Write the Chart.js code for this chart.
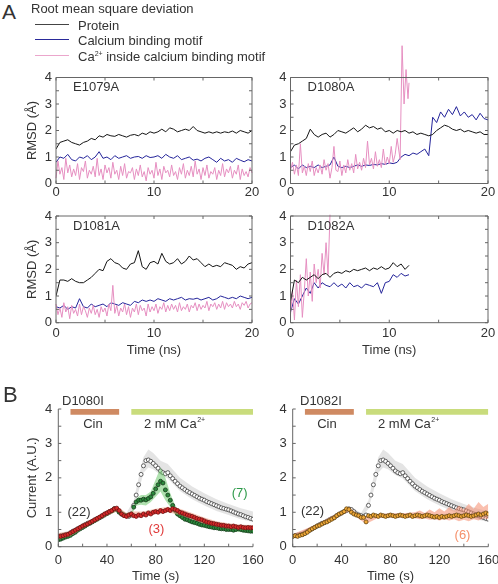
<!DOCTYPE html>
<html>
<head>
<meta charset="utf-8">
<script src="https://cdn.jsdelivr.net/npm/chart.js"></script>
<style>
body { margin: 0; background: #fff; }
#wrap { position: relative; width: 498px; height: 584px; overflow: hidden; font-family: 'Liberation Sans', Arial, sans-serif; color: #333; }
canvas { position: absolute; }
.t { position: absolute; line-height: 1; white-space: nowrap; font-size: 13px; z-index: 5; }
.ln { position: absolute; left: 35px; width: 34px; height: 0; border-top: 1.5px solid; z-index: 5; }
sup { font-size: 7px; vertical-align: 5px; line-height: 0; }
</style>
</head>
<body>
<div id="wrap">
  <canvas id="cE" width="270" height="160" style="left:0;top:40px"></canvas>
  <canvas id="cD80" width="260" height="160" style="left:250px;top:40px"></canvas>
  <canvas id="cD81" width="270" height="158" style="left:0;top:200px"></canvas>
  <canvas id="cD82" width="260" height="158" style="left:250px;top:200px"></canvas>
  <canvas id="cB1" width="270" height="204" style="left:0;top:380px"></canvas>
  <canvas id="cB2" width="260" height="204" style="left:250px;top:380px"></canvas>

  <div class="t" style="left:2px;top:0.5px;font-size:21px">A</div>
  <div class="t" style="left:31px;top:1.6px">Root mean square deviation</div>
  <div class="ln" style="top:24.3px;border-color:#444"></div>
  <div class="t" style="left:78px;top:19px">Protein</div>
  <div class="ln" style="top:39.3px;border-color:#2a2a9a"></div>
  <div class="t" style="left:78px;top:34.3px">Calcium binding motif</div>
  <div class="ln" style="top:55.3px;border-color:#eba6cc"></div>
  <div class="t" style="left:78px;top:50px">Ca<sup>2+</sup> inside calcium binding motif</div>

  <div class="t" style="left:3px;top:384px;font-size:22px">B</div>
  <div class="t" style="left:62px;top:393.8px">D1080I</div>
  <div class="t" style="left:300px;top:393.8px">D1082I</div>
</div>

<script>
// ---- time axes (frames every 0.4 ns / 0.2 ns for the ion, recording every 2 s)
const tNs = [];
for (let i = 0; i <= 50; i++) tNs.push(+(i * 0.4).toFixed(1));
const tFine = [];
for (let i = 0; i <= 100; i++) tFine.push(+(i * 0.2).toFixed(1));
const tSec = [];
for (let i = 0; i <= 80; i++) tSec.push(i * 2);

// ---- E1079A
const e79Protein = [1.30,1.55,1.60,1.65,1.55,1.50,1.45,1.55,1.60,1.70,
  1.65,1.80,1.75,1.85,1.80,1.78,1.85,1.80,1.75,1.82,
  1.85,1.80,1.90,1.85,1.95,1.90,1.95,2.05,1.95,2.10,
  2.05,1.95,2.00,2.05,2.00,2.15,2.00,1.95,1.90,1.95,
  1.90,1.95,1.90,1.95,1.92,1.98,1.90,2.00,1.95,1.90,
  2.00];
const e79Motif = [0.80,1.00,0.95,1.10,0.90,0.85,1.00,0.95,1.05,0.90,
  1.00,1.20,0.95,1.00,0.90,1.05,0.95,1.00,1.05,0.95,
  1.00,1.02,0.95,1.05,0.98,1.00,1.05,0.95,1.10,1.00,
  0.95,1.05,0.90,0.95,1.00,0.88,0.92,0.85,0.95,1.00,
  0.90,0.80,0.95,0.85,0.90,0.80,0.95,0.88,0.82,0.90,
  0.85];
const e79Ion = [0.20,0.85,0.35,0.60,0.15,0.95,0.40,0.70,0.25,0.55,
  0.30,0.75,0.15,0.60,0.45,0.85,0.20,0.50,0.35,0.65,
  0.25,0.95,0.30,0.55,0.15,0.70,0.40,0.60,0.20,0.80,
  0.35,0.50,0.15,0.65,0.30,0.75,0.20,0.45,0.40,0.60,
  0.15,0.55,0.30,0.70,0.25,0.45,0.10,0.60,0.35,0.50,
  0.20,0.80,0.30,0.55,0.15,0.65,0.40,0.50,0.25,0.70,
  0.30,0.45,0.15,0.60,0.35,0.75,0.20,0.50,0.30,0.65,
  0.25,0.85,0.35,0.55,0.15,0.60,0.30,0.70,0.20,0.45,
  0.35,0.60,0.15,0.50,0.30,0.75,0.25,0.55,0.40,0.65,
  0.20,0.50,0.35,0.70,0.15,0.55,0.30,0.45,0.25,0.60,
  0.40];

// ---- D1080A
const d80Protein = [1.20,1.45,1.50,1.60,1.70,2.05,1.85,1.75,1.85,1.90,
  1.75,1.85,2.00,1.95,1.90,2.00,2.10,1.95,2.05,2.20,
  2.10,2.15,2.05,2.10,1.95,2.00,1.90,2.00,1.95,2.00,
  1.90,1.95,1.85,1.90,1.85,1.80,1.85,2.00,2.10,2.20,
  2.15,2.05,2.00,2.05,1.95,2.00,1.95,1.90,1.95,1.85,
  1.85];
const d80Motif = [0.60,0.70,0.55,0.70,0.60,0.65,0.60,0.70,0.60,0.65,
  0.70,1.00,0.65,0.60,0.65,0.60,0.65,0.70,0.65,0.70,
  0.68,0.72,0.70,0.75,0.72,0.78,0.75,0.80,1.00,1.10,
  1.05,1.15,1.10,1.20,1.30,1.05,2.50,2.30,2.70,2.50,
  2.80,2.60,2.90,2.55,2.70,2.50,2.60,2.40,2.65,2.45,
  2.40];
const d80IonT = tFine.slice(0, 55).concat([11.1, 11.3, 11.5, 11.7, 11.9, 12.0]);
const d80Ion = [0.50,0.80,0.35,0.70,0.30,1.50,0.40,0.65,0.30,0.75,
  0.45,0.85,0.30,0.60,0.40,0.70,0.35,0.90,0.50,0.75,
  0.20,0.60,1.40,0.50,0.45,0.85,0.30,0.70,0.40,0.90,
  0.50,0.75,0.40,1.10,0.55,0.80,0.50,0.95,0.60,1.60,
  0.70,0.95,0.55,1.20,0.65,0.90,0.60,1.30,0.70,1.00,
  0.75,1.40,0.80,1.10,1.70,
  0.90,5.20,3.00,4.30,3.20,3.80];

// ---- D1081A
const d81Protein = [1.00,1.60,1.60,1.55,1.65,1.55,1.50,1.50,1.60,1.70,
  1.85,2.00,1.95,2.30,2.40,2.25,2.20,2.05,2.00,2.20,
  2.25,2.70,2.10,2.00,2.25,2.30,2.20,2.60,2.30,2.20,
  2.25,2.40,2.20,2.30,2.50,2.35,2.40,2.25,2.10,2.20,
  2.10,2.15,2.10,2.25,2.20,2.15,2.00,2.10,2.05,2.20,
  2.25];
const d81Motif = [0.60,0.55,0.65,0.50,0.60,0.55,0.90,0.60,0.55,0.70,
  0.60,0.65,0.70,0.60,0.75,0.70,0.65,0.75,0.70,0.65,
  0.80,0.75,0.85,0.80,0.85,0.80,0.90,0.85,0.80,0.90,
  0.85,0.90,0.95,0.85,0.90,0.88,0.92,0.85,0.90,0.95,
  0.85,0.90,1.00,0.95,0.90,0.95,0.90,1.00,0.95,0.90,
  0.95];
const d81Ion = [0.70,0.30,0.55,0.20,0.75,0.40,0.60,0.15,0.65,0.35,
  0.50,0.25,0.70,0.30,0.60,0.45,0.20,0.55,0.35,0.65,
  0.30,0.50,0.20,0.60,0.40,0.55,0.25,0.70,0.45,1.40,
  0.35,0.65,0.25,0.55,0.40,0.70,0.30,0.60,0.20,0.55,
  0.40,0.70,0.30,0.65,0.45,0.55,0.25,0.70,0.40,0.60,
  0.45,0.70,0.35,0.60,0.50,0.75,0.40,0.65,0.45,0.70,
  0.50,0.65,0.40,0.75,0.45,0.60,0.50,0.70,0.40,0.65,
  0.55,0.75,0.45,0.70,0.50,0.65,0.55,0.80,0.45,0.70,
  0.60,0.75,0.50,0.70,0.55,0.80,0.50,0.75,0.60,0.70,
  0.55,0.80,0.60,0.70,0.50,0.75,0.65,0.80,0.55,0.70,
  0.75];

// ---- D1082A (run stops at 12 ns, ion leaves at 4 ns)
const d82Protein = [0.80,1.60,1.50,1.70,1.60,1.70,1.80,1.65,1.80,1.85,
  1.70,1.85,1.90,1.85,1.95,1.90,2.00,1.95,2.00,2.05,
  1.95,2.05,2.00,2.10,2.00,2.05,2.25,2.10,2.20,2.00,
  2.15];
const d82Motif = [0.40,0.90,0.70,1.00,1.30,1.10,1.50,1.30,1.50,1.40,
  1.35,1.50,1.35,1.45,1.30,1.50,1.35,1.40,1.30,1.45,
  1.40,1.35,1.50,1.10,1.50,1.55,1.80,1.70,1.85,1.75,
  1.80];
const d82IonT = tFine.slice(0, 21);
const d82Ion = [0.30,1.20,0.10,1.60,0.60,1.80,0.20,1.20,2.40,1.00,
  1.90,0.80,2.20,1.50,2.00,1.30,2.60,1.80,3.00,1.80,
  4.05];

// ---- B: currents (A.U.)
const wt22 = [0.30,0.32,0.33,0.35,0.36,0.40,0.45,0.48,0.52,0.56,
  0.60,0.64,0.68,0.70,0.74,0.78,0.82,0.85,0.90,0.94,
  0.98,1.02,1.05,1.10,1.08,1.02,0.95,0.92,0.90,0.88,
  0.92,1.20,1.50,1.80,2.10,2.35,2.50,2.52,2.48,2.42,
  2.35,2.28,2.20,2.15,2.12,2.15,2.06,1.98,1.90,1.83,
  1.76,1.71,1.66,1.61,1.57,1.53,1.49,1.45,1.41,1.38,
  1.35,1.31,1.28,1.25,1.22,1.19,1.16,1.13,1.11,1.09,
  1.07,1.04,1.01,0.98,0.95,0.93,0.90,0.87,0.85,0.82,
  0.80];
const wtBandT = [0,10,20,30,40,48,56,62,66,70,74,78,84,90,100,110,120,130,140,150,160];
const wtBandHi = [0.38,0.48,0.68,0.86,1.05,1.15,0.98,1.35,2.00,2.60,2.82,2.72,2.50,2.40,2.00,1.75,1.55,1.38,1.24,1.12,1.02];
const wtBandLo = [0.25,0.36,0.55,0.72,0.92,1.02,0.85,1.10,1.60,2.15,2.30,2.25,2.08,1.98,1.62,1.38,1.20,1.04,0.92,0.80,0.72];

const d80i7 = [0.20,0.22,0.25,0.28,0.30,0.33,0.38,0.42,0.48,0.52,
  0.56,0.60,0.65,0.68,0.72,0.76,0.80,0.84,0.88,0.92,
  0.96,1.00,1.04,1.10,1.08,1.00,0.95,0.92,0.90,0.92,
  0.95,1.15,1.30,1.35,1.35,1.38,1.36,1.40,1.45,1.55,
  1.68,1.80,1.90,1.85,1.65,1.50,1.35,1.20,1.05,0.95,
  0.90,0.85,0.80,0.78,0.75,0.72,0.70,0.68,0.65,0.63,
  0.62,0.60,0.58,0.57,0.55,0.55,0.53,0.52,0.52,0.50,
  0.50,0.50,0.48,0.50,0.52,0.50,0.48,0.47,0.46,0.45,
  0.45];
const d80i7BandT = [0,20,40,48,56,60,64,68,72,76,80,84,88,92,96,100,110,120,140,160];
const d80i7BandHi = [0.27,0.62,1.02,1.15,0.96,1.00,1.40,1.50,1.50,1.60,1.95,2.30,2.00,1.55,1.20,1.02,0.80,0.70,0.56,0.52];
const d80i7BandLo = [0.15,0.50,0.90,1.02,0.85,0.90,1.20,1.22,1.20,1.30,1.45,1.60,1.35,1.15,0.92,0.82,0.66,0.56,0.45,0.40];

const d80i3 = [0.30,0.30,0.32,0.34,0.36,0.40,0.44,0.48,0.52,0.56,
  0.60,0.63,0.66,0.70,0.74,0.78,0.82,0.86,0.90,0.95,
  0.98,1.02,1.05,1.10,1.12,1.05,0.95,0.90,0.88,0.92,
  0.95,0.90,0.88,0.92,0.90,0.95,0.92,0.98,0.95,1.00,
  1.02,1.00,1.05,1.02,1.05,1.08,1.05,1.10,1.08,1.05,
  1.00,0.98,0.95,0.92,0.90,0.88,0.85,0.82,0.80,0.78,
  0.75,0.72,0.70,0.68,0.67,0.65,0.64,0.62,0.62,0.60,
  0.60,0.58,0.60,0.58,0.56,0.58,0.56,0.55,0.56,0.55,
  0.55];
const d80i3BandT = [0,10,20,30,40,48,56,60,70,80,90,100,110,120,130,140,150,160];
const d80i3BandHi = [0.40,0.45,0.67,0.85,1.05,1.18,0.98,1.02,1.02,1.10,1.16,1.10,0.98,0.85,0.74,0.68,0.64,0.63];
const d80i3BandLo = [0.22,0.30,0.52,0.70,0.90,1.02,0.82,0.86,0.86,0.94,1.00,0.92,0.80,0.67,0.58,0.52,0.50,0.48];

const d82i6 = [0.30,0.32,0.30,0.33,0.35,0.38,0.42,0.48,0.52,0.56,
  0.60,0.62,0.66,0.70,0.72,0.76,0.80,0.84,0.90,0.95,
  0.98,1.02,1.10,1.08,1.00,0.95,0.92,0.90,0.85,0.85,
  0.72,0.90,0.88,0.92,0.90,0.88,0.92,0.90,0.88,0.90,
  0.92,0.90,0.88,0.90,0.92,0.90,0.88,0.90,0.92,0.88,
  0.90,0.92,0.90,0.88,0.90,0.92,0.90,0.88,0.86,0.88,
  0.85,0.88,0.86,0.88,0.90,0.88,0.90,0.92,0.90,0.88,
  0.90,0.92,0.90,0.88,0.90,0.92,0.95,0.92,0.95,0.98,
  0.95];
const d82i6BandT = [0,20,40,46,52,60,70,80,90,100,104,108,112,116,120,124,128,132,136,140,144,148,152,156,160];
const d82i6BandHi = [0.36,0.66,1.04,1.16,0.98,0.86,0.95,0.97,0.97,1.00,1.05,0.98,1.08,1.00,1.12,1.02,1.15,1.05,1.20,1.08,1.25,1.10,1.30,1.15,1.25];
const d82i6BandLo = [0.24,0.56,0.92,1.02,0.86,0.66,0.84,0.85,0.84,0.83,0.80,0.82,0.78,0.80,0.76,0.80,0.76,0.80,0.74,0.78,0.74,0.80,0.76,0.82,0.80];

// application periods (s)
const cinPeriod = [10, 50];
const caPeriod = [60, 160];

// ---------------------------------------------------------------
Chart.defaults.font.family = "'Liberation Sans', Arial, sans-serif";
Chart.defaults.font.size = 13;
Chart.defaults.font.weight = 'normal';
Chart.defaults.color = '#333';
Chart.defaults.animation = false;
Chart.defaults.plugins.legend.display = false;
Chart.defaults.plugins.tooltip.enabled = false;
Chart.defaults.elements.line.borderWidth = 1;
Chart.defaults.elements.line.tension = 0;
Chart.defaults.elements.point.radius = 0;

function pts(xs, ys) {
    return ys.map((v, i) => ({x: xs[i], y: v}));
}

// frame + inward ticks + panel name
const framePlugin = {
    id: 'frame',
    afterDatasetsDraw(chart, args, o) {
        const {ctx, chartArea: a, scales: {x, y}} = chart;
        ctx.save();
        ctx.strokeStyle = '#666';
        ctx.lineWidth = 1;
        ctx.beginPath();
        if (o.full) {
            ctx.rect(a.left, a.top, a.width, a.height);
        } else {
            ctx.moveTo(a.left, a.top);
            ctx.lineTo(a.left, a.bottom);
            ctx.lineTo(a.right, a.bottom);
        }
        for (let v = x.min; v <= x.max + 1e-9; v += o.xStep) {
            const px = x.getPixelForValue(v);
            ctx.moveTo(px, a.bottom); ctx.lineTo(px, a.bottom - 3);
            if (o.full) { ctx.moveTo(px, a.top); ctx.lineTo(px, a.top + 3); }
        }
        for (let v = y.min; v <= y.max + 1e-9; v += o.yStep) {
            const py = y.getPixelForValue(v);
            ctx.moveTo(a.left, py); ctx.lineTo(a.left + 3, py);
            if (o.full) { ctx.moveTo(a.right, py); ctx.lineTo(a.right - 3, py); }
        }
        ctx.stroke();
        if (o.name) {
            ctx.fillStyle = '#333';
            ctx.font = "13px 'Liberation Sans', Arial, sans-serif";
            ctx.textBaseline = 'middle';
            ctx.fillText(o.name, a.left + 17, a.top + 10);
        }
        ctx.restore();
    }
};

// text notes placed in data coordinates
const notesPlugin = {
    id: 'notes',
    afterDatasetsDraw(chart, args, o) {
        const {ctx, scales: {x, y}} = chart;
        (o.items || []).forEach(n => {
            const main = "13px 'Liberation Sans', Arial, sans-serif";
            const small = "7px 'Liberation Sans', Arial, sans-serif";
            ctx.save();
            ctx.fillStyle = n.color || '#333';
            ctx.textBaseline = 'middle';
            ctx.font = main;
            let w = ctx.measureText(n.text).width;
            if (n.sup) { ctx.font = small; w += ctx.measureText(n.sup).width; }
            let px = x.getPixelForValue(n.x);
            const py = y.getPixelForValue(n.y);
            if (n.align === 'center') px -= w / 2;
            ctx.font = main;
            ctx.fillText(n.text, px, py);
            if (n.sup) {
                const tw = ctx.measureText(n.text).width;
                ctx.font = small;
                ctx.fillText(n.sup, px + tw + 0.5, py - 5);
            }
            ctx.restore();
        });
    }
};

function scales(xmax, xstep, yW, xH, xTitle, yTitle, padX, padY) {
    return {
        x: {
            type: 'linear', min: 0, max: xmax,
            ticks: {stepSize: xstep, padding: padX, maxRotation: 0, autoSkip: false},
            grid: {display: false, drawTicks: false},
            border: {display: false},
            title: {display: !!xTitle, text: xTitle || '', padding: 0, font: {weight: 'normal'}},
            afterFit(s) { s.height = xH; }
        },
        y: {
            min: 0, max: 4,
            ticks: {stepSize: 1, padding: padY},
            grid: {display: false, drawTicks: false},
            border: {display: false},
            title: {display: !!yTitle, text: yTitle || '', padding: 0, font: {weight: 'normal'}},
            afterFit(s) { s.width = yW; }
        }
    };
}

function rmsdChart(id, name, prot, motif, ionT, ion, pad, yW, xH, xTitle, yTitle, padX) {
    new Chart(document.getElementById(id), {
        type: 'line',
        data: {
            datasets: [
                {data: pts(tNs, prot), borderColor: '#141414'},
                {data: pts(ionT, ion), borderColor: '#e68fc1', clip: false},
                {data: pts(tNs, motif), borderColor: '#24249a'}
            ]
        },
        options: {
            responsive: false,
            devicePixelRatio: 1,
            layout: {padding: pad},
            scales: scales(20, 10, yW, xH, xTitle, yTitle, padX, 4),
            plugins: {frame: {full: true, xStep: 5, yStep: 0.5, name: name}}
        },
        plugins: [framePlugin]
    });
}

rmsdChart('cE', 'E1079A', e79Protein, e79Motif, tFine, e79Ion,
    {left: 24.2, right: 18, top: 37.5, bottom: 0}, 31.8, 16.5, '', 'RMSD (Å)', 1);
rmsdChart('cD80', 'D1080A', d80Protein, d80Motif, d80IonT, d80Ion,
    {left: 0, right: 22, top: 37.5, bottom: 0}, 40.5, 16.5, '', '', 1);
rmsdChart('cD81', 'D1081A', d81Protein, d81Motif, tFine, d81Ion,
    {left: 24.2, right: 18, top: 16, bottom: 0}, 31.8, 35.3, 'Time (ns)', 'RMSD (Å)', 2.5);
rmsdChart('cD82', 'D1082A', d82Protein, d82Motif, d82IonT, d82Ion,
    {left: 0, right: 22, top: 16, bottom: 0}, 40.5, 35.3, 'Time (ns)', '', 2.5);

// ---- panel B
const barY = 3.92;
function bar(span, color) {
    return {data: [{x: span[0], y: barY}, {x: span[1], y: barY}], borderColor: color,
        borderWidth: 6, borderCapStyle: 'butt', pointRadius: 0};
}
function markers(ys, fill, edge) {
    return {data: pts(tSec, ys), showLine: false, pointRadius: 2,
        pointBackgroundColor: fill, pointBorderColor: edge, pointBorderWidth: 0.8};
}
function band(xs, hi, lo, color) {
    return [
        {data: pts(xs, hi), borderColor: 'rgba(0,0,0,0)', pointRadius: 0, fill: '+1', backgroundColor: color},
        {data: pts(xs, lo), borderColor: 'rgba(0,0,0,0)', pointRadius: 0, fill: false}
    ];
}

function currentChart(id, sets, pad, yW, yTitle, notes) {
    new Chart(document.getElementById(id), {
        type: 'line',
        data: {datasets: sets},
        options: {
            responsive: false,
            devicePixelRatio: 1,
            layout: {padding: pad},
            scales: scales(160, 40, yW, 37.3, 'Time (s)', yTitle, 6, 6),
            plugins: {
                frame: {full: false, xStep: 20, yStep: 0.5},
                notes: {items: notes}
            }
        },
        plugins: [framePlugin, notesPlugin]
    });
}

currentChart('cB1', [
    bar(cinPeriod, '#cf8a62'),
    bar(caPeriod, '#c9dc7c'),
    markers(d80i3, '#d62a2a', '#6e1212'),
    ...band(d80i3BandT, d80i3BandHi, d80i3BandLo, 'rgba(240,150,120,0.5)'),
    markers(d80i7, '#2b8a3c', '#15391a'),
    ...band(d80i7BandT, d80i7BandHi, d80i7BandLo, 'rgba(110,200,110,0.55)'),
    markers(wt22, '#ffffff', '#3c3c3c'),
    ...band(wtBandT, wtBandHi, wtBandLo, 'rgba(205,205,205,0.55)')
], {left: 24.2, right: 17, top: 29, bottom: 0}, 34.1, 'Current (A.U.)', [
    {x: 28.5, y: 3.54, text: 'Cin', align: 'center'},
    {x: 70.4, y: 3.54, text: '2 mM Ca', sup: '2+'},
    {x: 17, y: 1.01, text: '(22)', align: 'center'},
    {x: 80.6, y: 0.51, text: '(3)', align: 'center', color: '#e03a3a'},
    {x: 149, y: 1.56, text: '(7)', align: 'center', color: '#2e9a4a'}
]);

currentChart('cB2', [
    bar(cinPeriod, '#cf8a62'),
    bar(caPeriod, '#c9dc7c'),
    markers(d82i6, '#f0a838', '#604210'),
    ...band(d82i6BandT, d82i6BandHi, d82i6BandLo, 'rgba(245,140,110,0.55)'),
    markers(wt22, '#ffffff', '#3c3c3c'),
    ...band(wtBandT, wtBandHi, wtBandLo, 'rgba(205,205,205,0.55)')
], {left: 0, right: 21.7, top: 29, bottom: 0}, 42.7, '', [
    {x: 28, y: 3.54, text: 'Cin', align: 'center'},
    {x: 69.8, y: 3.54, text: '2 mM Ca', sup: '2+'},
    {x: 16.2, y: 1.02, text: '(22)', align: 'center'},
    {x: 138.9, y: 0.34, text: '(6)', align: 'center', color: '#f5906a'}
]);
</script>
</body>
</html>
